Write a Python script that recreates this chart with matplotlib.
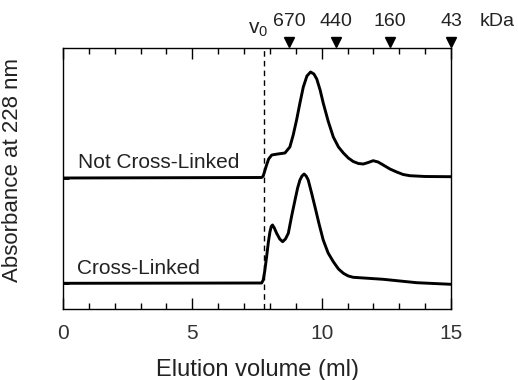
import matplotlib
matplotlib.use("Agg")
import matplotlib.pyplot as plt
import matplotlib.transforms as mtransforms

plt.rcParams['font.family'] = ['Liberation Sans', 'DejaVu Sans']
plt.rcParams['mathtext.fontset'] = 'custom'
plt.rcParams['mathtext.rm'] = 'Liberation Sans'
plt.rcParams['mathtext.it'] = 'Liberation Sans'

# 溶出体積 (ml) と吸光度 (任意単位)
vol_not = [0, 7.68, 7.74, 7.87, 7.95, 8.07, 8.30, 8.58, 8.77, 8.90, 9.03, 9.16,
           9.29, 9.43, 9.57, 9.70, 9.81, 9.94, 10.06, 10.25, 10.45, 10.65, 10.84,
           11.03, 11.22, 11.42, 11.61, 11.80, 11.99, 12.18, 12.38, 12.64, 12.90,
           13.15, 13.41, 14.0, 15.0]
abs_not = [1.31, 1.315, 1.33, 1.44, 1.50, 1.54, 1.55, 1.56, 1.62, 1.74, 1.89, 2.06,
           2.22, 2.33, 2.37, 2.35, 2.30, 2.19, 2.06, 1.88, 1.72, 1.62, 1.56,
           1.51, 1.475, 1.455, 1.45, 1.465, 1.483, 1.47, 1.44, 1.40, 1.37,
           1.345, 1.333, 1.325, 1.323]

vol_cl = [0, 7.68, 7.74, 7.80, 7.87, 7.94, 8.00, 8.05, 8.10, 8.17, 8.26, 8.38,
          8.49, 8.60, 8.71, 8.84, 8.97, 9.07, 9.16, 9.24, 9.32, 9.40, 9.48, 9.61,
          9.74, 9.90, 10.06, 10.25, 10.45, 10.65, 10.84, 11.03, 11.22, 12.38,
          13.67, 15.0]
abs_cl = [0.257, 0.26, 0.29, 0.38, 0.52, 0.67, 0.77, 0.825, 0.84, 0.81, 0.757, 0.70,
          0.673, 0.70, 0.757, 0.93, 1.09, 1.21, 1.29, 1.33, 1.35, 1.33, 1.29, 1.16,
          1.023, 0.85, 0.69, 0.56, 0.473, 0.40, 0.357, 0.33, 0.317, 0.297,
          0.263, 0.247]

v0 = 7.78
marker_vol = [8.74, 10.54, 12.64, 15.0]
marker_kda = ["670", "440", "160", "43"]

fig = plt.figure(figsize=(5.18, 3.8), dpi=100)
ax = fig.add_axes([63 / 518, 1 - 309 / 380, 388 / 518, 261 / 380])

ax.plot(vol_not, abs_not, color="black", lw=2.1, solid_joinstyle="round")
ax.plot(vol_cl, abs_cl, color="black", lw=2.1, solid_joinstyle="round")
ax.axvline(v0, color="black", lw=1.0, ls=(0, (4, 3)))

ax.text(0.57, 1.46, "Not Cross-Linked", fontsize=15, va="center", ha="left", color="#222222")
ax.text(0.55, 0.41, "Cross-Linked", fontsize=15, va="center", ha="left", color="#222222")

ax.set_xlim(0, 15)
ax.set_ylim(0, 2.61)
ax.set_xticks([0, 5, 10, 15])
ax.set_xticks(range(16), minor=True)
ax.set_xticklabels(["0", "5", "10", "15"], fontsize=15, color="#333333")
ax.tick_params(axis="x", which="major", direction="in", length=8, width=1, top=True, pad=10.5)
ax.tick_params(axis="x", which="minor", direction="in", length=4.5, width=1, top=True)
ax.set_yticks([abs_cl[0], abs_not[0]])
ax.set_yticklabels([])
ax.tick_params(axis="y", direction="in", length=4, width=2)
for s in ax.spines.values():
    s.set_linewidth(1.0)

ax.set_xlabel("Elution volume (ml)", fontsize=17, labelpad=11.5, color="#222222")
ax.set_ylabel("Absorbance at 228 nm", fontsize=16, color="#222222")
ax.yaxis.set_label_coords(-0.103, 0.533)

# 分子量マーカー
trans = mtransforms.blended_transform_factory(ax.transData, ax.transAxes)
ax.plot(marker_vol, [1.023] * len(marker_vol), "v", color="black", ms=7,
        transform=trans, clip_on=False)
for v, lab in zip(marker_vol, marker_kda):
    ax.text(v, 1.10, lab, transform=trans, fontsize=14, ha="center", va="center", color="#222222")
ax.text(16.8, 1.10, "kDa", transform=trans, fontsize=14, ha="center", va="center", color="#222222")
ax.text(7.54, 1.07, r"v$_{\mathregular{0}}$", transform=trans, fontsize=15, ha="center",
        va="center", color="#222222")

fig.savefig("out.png", dpi=100)
